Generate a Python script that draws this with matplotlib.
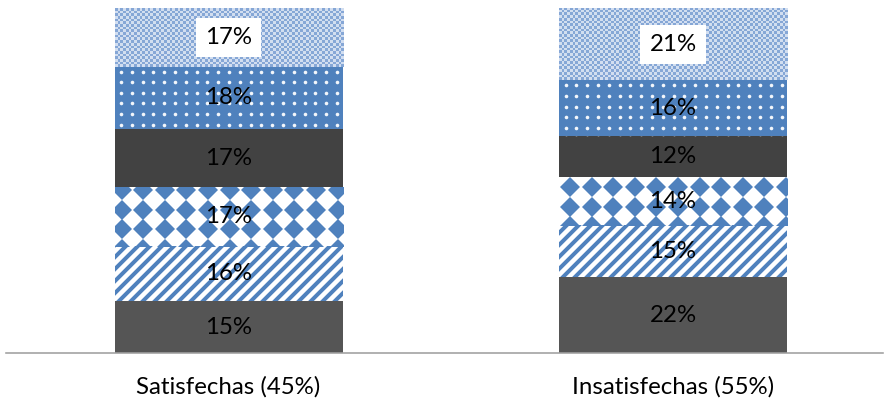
import matplotlib
matplotlib.use("Agg")
import matplotlib.pyplot as plt
import numpy as np
from matplotlib.transforms import IdentityTransform
from matplotlib.colors import ListedColormap

# ---- data ----
categories = ["Satisfechas (45%)", "Insatisfechas (55%)"]
seg1 = [15, 22]   # bottom, dark grey
seg2 = [16, 15]   # diagonal stripes
seg3 = [17, 14]   # diamonds
seg4 = [17, 12]   # dark grey
seg5 = [18, 16]   # blue with white dots
seg6 = [17, 21]   # light blue checker (top)
series = [seg1, seg2, seg3, seg4, seg5, seg6]

BLUE = "#4F81BD"
FONT = ["Lato", "DejaVu Sans"]
plt.rcParams["font.family"] = FONT
FS = 24

DPI = 72
W, H = 884, 405
fig = plt.figure(figsize=(W / DPI, H / DPI), dpi=DPI)
ax = fig.add_axes([6 / W, 52 / H, 877 / W, 345 / H])
XMIN, XMAX = -0.5006, 1.4724
ax.set_xlim(XMIN, XMAX)
ax.set_ylim(0, 100)

x = np.arange(len(categories))
width = 0.513
bottoms = np.zeros(len(categories))
containers = []
for i, vals in enumerate(series):
    vals = np.array(vals, dtype=float)
    kw = dict(linewidth=0, zorder=1)
    if i == 0:
        kw.update(color="#555555")
    elif i == 1:
        kw.update(facecolor="white", edgecolor=BLUE, hatch="//")
    elif i == 2:
        kw.update(color="white")
    elif i == 3:
        kw.update(color="#424242")
    elif i == 4:
        kw.update(color=BLUE)
    else:
        kw.update(color="#A9C0E1")
    with plt.rc_context({"hatch.linewidth": 4.0}):
        bc = ax.bar(x, vals, width, bottom=bottoms, **kw)
    if i == 1:
        for p in bc:
            try:
                p.set_hatch_linewidth(4.0)
            except Exception:
                pass
    containers.append(bc)
    bottoms = bottoms + vals

fig.canvas.draw()
ident = IdentityTransform()

# diamonds texture
diamond_offsets = [(7, 3), (11, 10)]
for p, (ox, oy) in zip(containers[2], diamond_offsets):
    bb = p.get_window_extent()
    xs = np.arange(bb.x0 + ox, bb.x1 + 12, 21.6)
    ys = np.arange(bb.y1 - oy, bb.y0 - 12, -19.5)
    gx, gy = np.meshgrid(xs, ys)
    ln, = ax.plot(gx.ravel(), gy.ravel(), linestyle="none", marker="D",
                  markersize=14.5, color=BLUE, markeredgewidth=0,
                  transform=ident, zorder=2)
    ln.set_clip_path(p)

# dots texture
for p in containers[4]:
    bb = p.get_window_extent()
    xs = np.arange(bb.x0 + 6.5, bb.x1 + 6, 10.8)
    ys = np.arange(bb.y1 - 5, bb.y0 - 6, -10.6)
    gx, gy = np.meshgrid(xs, ys)
    ln, = ax.plot(gx.ravel(), gy.ravel(), linestyle="none", marker="o",
                  markersize=3.6, color="#F2F6FB", markeredgewidth=0,
                  transform=ident, zorder=2)
    ln.set_clip_path(p)

# checker texture for top segment
cmap = ListedColormap(["#86A7D6", "#D2DEF0"])
for p in containers[5]:
    bb = p.get_window_extent()
    nx = int(round(bb.width / 2.7))
    ny = int(round(bb.height / 2.7))
    arr = (np.add.outer(np.arange(ny), np.arange(nx)) % 2).astype(float)
    x0, y0 = p.get_x(), p.get_y()
    im = ax.imshow(arr, cmap=cmap, extent=(x0, x0 + p.get_width(), y0, y0 + p.get_height()),
                   interpolation="nearest", aspect="auto", zorder=1.5, vmin=0, vmax=1)
    im.set_clip_path(p)

ax.set_xlim(XMIN, XMAX)
ax.set_ylim(0, 100)

# data labels
bottoms = np.zeros(len(categories))
for i, vals in enumerate(series):
    for j, v in enumerate(vals):
        yc = bottoms[j] + v / 2
        kw = {}
        if i == 5:
            kw["bbox"] = dict(facecolor="white", edgecolor="none", pad=9.0)
        ax.text(x[j], yc, f"{v}%", ha="center", va="center", fontsize=FS,
                color="black", zorder=4, **kw)
    bottoms = bottoms + np.array(vals)

ax.set_xticks(x, categories, fontsize=FS)
ax.tick_params(axis="x", length=0, pad=23)
ax.set_yticks([])
for s in ["left", "right", "top"]:
    ax.spines[s].set_visible(False)
ax.spines["bottom"].set_color("#A0A0A0")
ax.spines["bottom"].set_linewidth(1.6)
ax.spines["bottom"].set_zorder(5)
ax.patch.set_visible(False)

fig.savefig("out.png", dpi=DPI, facecolor="white")
